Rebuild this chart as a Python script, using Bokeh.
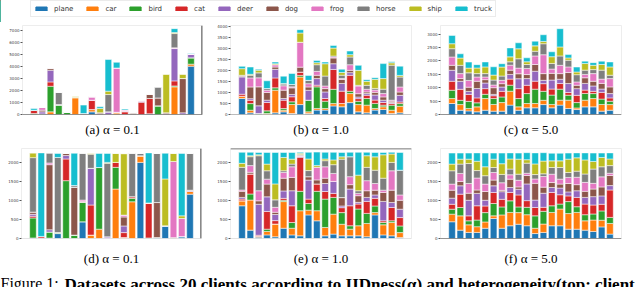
from bokeh.plotting import figure
from bokeh.layouts import column, row
from bokeh.models import (ColumnDataSource, Range1d, FixedTicker, Span, Legend,
                          LegendItem, Label)
from bokeh.embed import file_html
from bokeh.resources import INLINE

CLASSES = ["plane", "car", "bird", "cat", "deer", "dog", "frog", "horse", "ship", "truck"]
COLORS = ["#1f77b4", "#ff7f0e", "#2ca02c", "#d62728", "#9467bd",
          "#8c564b", "#e377c2", "#7f7f7f", "#bcbd22", "#17becf"]
CLIENTS = list(range(20))

# ---- (a) alpha = 0.1, unequal sizes
a_plane = [0, 50, 0, 0, 0, 0, 0, 220, 0, 0, 0, 0, 0, 0, 60, 0, 0, 0, 0, 4020]
a_car = [0, 0, 220, 0, 0, 1380, 0, 190, 0, 0, 140, 0, 0, 0, 0, 0, 0, 2300, 0, 165]
a_bird = [80, 0, 2130, 800, 200, 60, 0, 0, 0, 0, 0, 0, 0, 0, 0, 720, 0, 80, 0, 525]
a_cat = [280, 0, 360, 0, 0, 0, 0, 780, 0, 0, 50, 220, 0, 1020, 1270, 0, 0, 415, 0, 0]
a_deer = [0, 170, 970, 0, 0, 0, 0, 0, 0, 220, 0, 50, 0, 80, 0, 0, 0, 2690, 140, 280]
a_dog = [0, 140, 140, 0, 0, 0, 80, 0, 140, 0, 0, 0, 140, 0, 360, 660, 140, 0, 2850, 0]
a_frog = [0, 220, 50, 30, 0, 0, 0, 280, 0, 0, 3680, 110, 0, 80, 0, 0, 0, 55, 0, 40]
a_horse = [0, 0, 0, 1000, 0, 0, 0, 0, 0, 1440, 0, 0, 0, 0, 0, 910, 0, 1190, 0, 0]
a_ship = [0, 0, 0, 0, 0, 80, 0, 0, 360, 280, 0, 0, 0, 0, 0, 0, 3210, 80, 360, 0]
a_truck = [140, 0, 0, 0, 0, 0, 700, 0, 140, 2630, 470, 80, 0, 0, 0, 0, 0, 330, 0, 40]

# ---- (b) alpha = 1.0, unequal sizes
b_plane = [725, 75, 0, 0, 75, 120, 45, 450, 45, 200, 200, 390, 350, 540, 120, 75, 200, 230, 45, 75]
b_car = [105, 120, 0, 45, 1030, 75, 410, 1250, 75, 75, 75, 105, 150, 410, 330, 350, 75, 120, 150, 300]
b_bird = [0, 300, 45, 120, 105, 75, 120, 75, 530, 980, 330, 650, 0, 105, 150, 300, 230, 75, 230, 120]
b_cat = [90, 150, 0, 380, 450, 380, 230, 150, 0, 75, 120, 900, 560, 725, 120, 150, 150, 120, 75, 75]
b_deer = [785, 75, 350, 105, 390, 75, 105, 0, 450, 300, 300, 260, 350, 120, 75, 75, 230, 105, 45, 300]
b_dog = [45, 530, 860, 350, 105, 380, 300, 225, 150, 150, 150, 260, 180, 105, 150, 75, 120, 150, 60, 150]
b_frog = [0, 410, 410, 105, 105, 200, 45, 1130, 150, 180, 120, 45, 45, 255, 350, 120, 105, 150, 45, 230]
b_horse = [30, 120, 225, 75, 0, 75, 105, 0, 150, 300, 450, 45, 150, 350, 30, 180, 75, 200, 1590, 450]
b_ship = [300, 45, 120, 0, 45, 30, 0, 420, 0, 90, 560, 360, 120, 105, 680, 180, 410, 480, 105, 75]
b_truck = [105, 330, 45, 350, 75, 330, 500, 150, 225, 105, 75, 120, 150, 165, 225, 75, 75, 680, 45, 420]

# ---- (c) alpha = 5.0, unequal sizes
c_plane = [410, 160, 135, 100, 160, 125, 125, 350, 160, 250, 250, 370, 250, 350, 225, 185, 285, 285, 125, 160]
c_car = [185, 210, 85, 185, 435, 250, 320, 520, 125, 160, 160, 160, 125, 185, 310, 60, 250, 310, 250, 210]
c_bird = [310, 160, 270, 150, 160, 225, 210, 225, 310, 370, 535, 335, 350, 410, 185, 200, 250, 185, 200, 125]
c_cat = [335, 410, 260, 185, 210, 100, 210, 225, 370, 310, 300, 285, 225, 210, 100, 270, 125, 85, 250, 125]
c_deer = [410, 300, 110, 350, 210, 50, 160, 175, 370, 250, 370, 125, 335, 160, 335, 250, 250, 200, 125, 160]
c_dog = [185, 100, 160, 270, 125, 250, 125, 160, 185, 150, 250, 250, 250, 210, 410, 125, 210, 175, 210, 250]
c_frog = [310, 185, 250, 160, 100, 100, 125, 185, 210, 225, 320, 705, 160, 310, 210, 125, 125, 285, 160, 310]
c_horse = [310, 310, 285, 125, 125, 185, 160, 125, 350, 150, 175, 410, 210, 350, 250, 270, 160, 150, 335, 125]
c_ship = [185, 270, 175, 210, 250, 185, 335, 185, 370, 100, 200, 85, 250, 335, 85, 100, 250, 160, 210, 310]
c_truck = [310, 160, 225, 125, 185, 310, 125, 335, 225, 150, 175, 250, 185, 680, 125, 185, 85, 100, 125, 185]

# ---- (d) alpha = 0.1, equal sizes
d_plane = [15, 15, 10, 130, 0, 0, 440, 0, 0, 0, 0, 0, 0, 2000, 0, 25, 335, 0, 50, 1165]
d_car = [0, 0, 0, 0, 0, 0, 0, 90, 245, 0, 1300, 25, 965, 175, 0, 0, 0, 0, 0, 70]
d_bird = [525, 0, 160, 25, 1520, 90, 510, 0, 1620, 0, 570, 0, 90, 0, 15, 0, 0, 0, 0, 0]
d_cat = [45, 40, 0, 0, 570, 0, 0, 790, 0, 0, 130, 130, 45, 0, 920, 0, 0, 0, 0, 0]
d_deer = [50, 0, 60, 0, 90, 0, 0, 965, 0, 45, 0, 175, 0, 0, 0, 0, 0, 0, 0, 35]
d_dog = [60, 0, 1710, 0, 60, 1255, 25, 0, 0, 0, 0, 235, 0, 0, 0, 920, 0, 25, 0, 0]
d_frog = [0, 0, 45, 0, 0, 0, 35, 0, 0, 0, 0, 50, 0, 0, 0, 0, 0, 2000, 475, 0]
d_horse = [1430, 0, 265, 1975, 0, 45, 1230, 370, 0, 1930, 0, 0, 1140, 60, 0, 1290, 0, 0, 0, 965]
d_ship = [125, 0, 0, 0, 0, 0, 0, 25, 0, 25, 235, 1615, 0, 0, 0, 0, 1230, 210, 70, 0]
d_truck = [0, 2195, 0, 105, 0, 850, 0, 0, 370, 235, 0, 0, 0, 0, 1315, 0, 675, 0, 1640, 0]

# ---- (e) alpha = 1.0, equal sizes
e_plane = [860, 220, 35, 95, 45, 270, 95, 70, 620, 465, 70, 115, 70, 70, 70, 45, 620, 95, 70, 25]
e_car = [130, 790, 25, 90, 335, 700, 175, 660, 125, 265, 220, 525, 305, 175, 265, 350, 60, 265, 350, 130]
e_bird = [0, 160, 0, 60, 0, 35, 150, 510, 175, 510, 745, 440, 305, 90, 440, 265, 175, 60, 45, 175]
e_cat = [45, 525, 25, 465, 90, 50, 440, 895, 115, 195, 200, 105, 130, 525, 130, 315, 200, 45, 350, 220]
e_deer = [45, 0, 815, 385, 160, 195, 395, 20, 500, 0, 210, 315, 45, 440, 45, 105, 90, 510, 130, 220]
e_dog = [160, 45, 90, 335, 60, 335, 350, 0, 90, 105, 140, 0, 220, 115, 175, 175, 125, 235, 325, 235]
e_frog = [35, 175, 265, 130, 130, 150, 280, 25, 0, 335, 300, 210, 0, 210, 60, 265, 175, 60, 510, 140]
e_horse = [595, 235, 920, 220, 195, 45, 70, 25, 160, 0, 160, 230, 1010, 525, 70, 350, 350, 315, 220, 650]
e_ship = [105, 25, 25, 175, 420, 350, 130, 35, 305, 45, 45, 125, 60, 0, 410, 305, 350, 615, 220, 0]
e_truck = [290, 90, 60, 305, 825, 130, 175, 25, 175, 350, 175, 200, 115, 115, 600, 90, 115, 60, 45, 465]

# ---- (f) alpha = 5.0, equal sizes
f_plane = [440, 220, 160, 160, 270, 525, 270, 335, 375, 335, 130, 160, 335, 335, 245, 245, 220, 185, 305, 115]
f_car = [200, 375, 200, 150, 165, 70, 350, 350, 305, 290, 140, 220, 350, 440, 410, 440, 245, 300, 175, 280]
f_bird = [130, 220, 105, 175, 245, 325, 210, 305, 150, 195, 325, 335, 175, 130, 315, 150, 160, 160, 245, 160]
f_cat = [130, 350, 130, 375, 175, 290, 200, 220, 315, 175, 220, 105, 350, 245, 150, 245, 280, 235, 175, 720]
f_deer = [160, 220, 410, 325, 150, 175, 200, 130, 150, 440, 195, 370, 130, 175, 105, 175, 175, 220, 220, 115]
f_dog = [210, 115, 185, 90, 230, 150, 35, 220, 60, 220, 440, 160, 130, 105, 220, 160, 160, 200, 235, 265]
f_frog = [160, 210, 255, 315, 195, 200, 200, 115, 175, 60, 115, 280, 220, 130, 160, 195, 235, 150, 265, 60]
f_horse = [350, 245, 525, 195, 220, 130, 220, 150, 160, 265, 115, 70, 175, 305, 130, 160, 220, 375, 265, 200]
f_ship = [175, 130, 115, 245, 235, 220, 280, 265, 395, 90, 280, 335, 175, 175, 350, 350, 370, 200, 245, 175]
f_truck = [290, 160, 160, 220, 360, 160, 280, 160, 160, 185, 290, 220, 200, 200, 160, 130, 185, 220, 115, 160]

TICKS_A = [0, 1000, 2000, 3000, 4000, 5000, 6000, 7000]
TICKS_B = [0, 500, 1000, 1500, 2000, 2500, 3000, 3500, 4000]
TICKS_C = [0, 500, 1000, 1500, 2000, 2500, 3000]
TICKS_BOTTOM = [0, 500, 1000, 1500, 2000]

CAPTIONS = ["(a) \u03b1 = 0.1", "(b) \u03b1 = 1.0", "(c) \u03b1 = 5.0",
            "(d) \u03b1 = 0.1", "(e) \u03b1 = 1.0", "(f) \u03b1 = 5.0"]
FIG_CAPTION_1 = "Figure 1:"
FIG_CAPTION_2 = "Datasets across 20 clients according to IIDness(\u03b1) and heterogeneity(top: client"

DARK = "#3a3a3a"
LIGHT = "#d9d9d9"


def panel(counts, y_end, ticks, caption, w, left, right, h, top, bottom, standoff,
          bottom_color, right_line=False, top_line=False):
    data = dict(client=CLIENTS)
    for name, vals in zip(CLASSES, counts):
        data[name] = vals
    src = ColumnDataSource(data)
    p = figure(width=w, height=h, x_range=Range1d(-1.39, 20.39), y_range=Range1d(0, y_end),
               x_axis_type=None, output_backend="svg", toolbar_location=None,
               min_border_left=left, min_border_right=right, min_border_top=top,
               min_border_bottom=bottom, title=caption, title_location="below")
    p.vbar_stack(CLASSES, x="client", width=0.8, color=COLORS, source=src,
                 line_color="white", line_width=0.5)
    p.grid.visible = False
    p.outline_line_color = "#ededed"
    ax = p.yaxis[0]
    ax.ticker = FixedTicker(ticks=ticks)
    ax.axis_line_color = None
    ax.major_tick_in = 0
    ax.major_tick_out = 2
    ax.major_tick_line_color = "#555555"
    ax.minor_tick_line_color = None
    ax.major_label_standoff = 1
    ax.major_label_text_font = "DejaVu Sans"
    ax.major_label_text_font_size = "4px"
    ax.major_label_text_color = "#444444"
    p.title.align = "center"
    p.title.text_font = "Liberation Serif"
    p.title.text_font_size = "13px"
    p.title.text_font_style = "normal"
    p.title.text_color = "black"
    p.title.standoff = standoff
    p.add_layout(Span(location=0, dimension="width", line_color=bottom_color, line_width=1.2))
    if right_line:
        p.add_layout(Span(location=20.33, dimension="height", line_color=DARK, line_width=1.2))
    if top_line:
        p.add_layout(Span(location=y_end * 0.997, dimension="width", line_color=DARK, line_width=1.2))
    return p


# rows: legend 0-22, top row 22-145, bottom row 145-276, caption 276-287
TOP_H, TOP_T, TOP_B = 123, 3, 31
BOT_H, BOT_T, BOT_B = 131, 3, 38

pa = panel([a_plane, a_car, a_bird, a_cat, a_deer, a_dog, a_frog, a_horse, a_ship, a_truck],
           7400, TICKS_A, CAPTIONS[0], 210, 22, 8, TOP_H, TOP_T, TOP_B, 10, DARK, right_line=True)
pb = panel([b_plane, b_car, b_bird, b_cat, b_deer, b_dog, b_frog, b_horse, b_ship, b_truck],
           4040, TICKS_B, CAPTIONS[1], 210, 20, 9, TOP_H, TOP_T, TOP_B, 10, "#8a8a8a")
pc = panel([c_plane, c_car, c_bird, c_cat, c_deer, c_dog, c_frog, c_horse, c_ship, c_truck],
           3320, TICKS_C, CAPTIONS[2], 220, 20, 19, TOP_H, TOP_T, TOP_B, 10, DARK)
pd = panel([d_plane, d_car, d_bird, d_cat, d_deer, d_dog, d_frog, d_horse, d_ship, d_truck],
           2365, TICKS_BOTTOM, CAPTIONS[3], 210, 21, 9, BOT_H, BOT_T, BOT_B, 21, LIGHT, right_line=True)
pe = panel([e_plane, e_car, e_bird, e_cat, e_deer, e_dog, e_frog, e_horse, e_ship, e_truck],
           2365, TICKS_BOTTOM, CAPTIONS[4], 210, 20, 9, BOT_H, BOT_T, BOT_B, 21, LIGHT, top_line=True)
pf = panel([f_plane, f_car, f_bird, f_cat, f_deer, f_dog, f_frog, f_horse, f_ship, f_truck],
           2365, TICKS_BOTTOM, CAPTIONS[5], 220, 20, 19, BOT_H, BOT_T, BOT_B, 21, DARK)

# ---- legend strip
lg = figure(width=640, height=22, x_range=Range1d(0, 1), y_range=Range1d(0, 1),
            x_axis_type=None, y_axis_type=None, output_backend="svg", toolbar_location=None,
            min_border=0, outline_line_color=None)
items = []
for name, col in zip(CLASSES, COLORS):
    r = lg.vbar(x=[-5], top=[1], width=0.5, color=col)
    items.append(LegendItem(label=name, renderers=[r]))
legend = Legend(items=items, orientation="horizontal", location=(30, 5), margin=0,
                padding=3, spacing=12, label_standoff=6, glyph_width=14, glyph_height=5,
                label_height=9, label_width=1, label_text_font="DejaVu Sans",
                label_text_font_size="7px", label_text_color="#333333",
                border_line_color="#d8d8d8", border_line_width=1, background_fill_alpha=1)
lg.add_layout(legend)

# ---- figure caption strip (cut at the bottom edge as in the original)
cap = figure(width=640, height=11, x_range=Range1d(0, 640), y_range=Range1d(0, 11),
             x_axis_type=None, y_axis_type=None, output_backend="svg", toolbar_location=None,
             min_border=0, outline_line_color=None)
cap.add_layout(Label(x=0, y=13.5, text=FIG_CAPTION_1,
                     text_font="Liberation Serif", text_font_size="16px",
                     text_baseline="top", text_color="black"))
cap.add_layout(Label(x=64, y=13.5, text=FIG_CAPTION_2,
                     text_font="Liberation Serif", text_font_size="17px", text_font_style="bold",
                     text_baseline="top", text_color="black"))

layout = column(lg, row(pa, pb, pc), row(pd, pe, pf), cap)

open("out.html", "w").write(file_html(layout, INLINE))
